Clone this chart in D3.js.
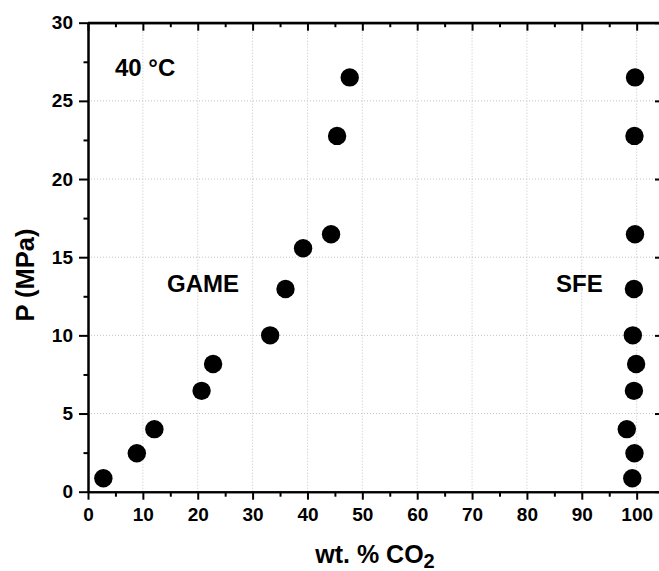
<!DOCTYPE html>
<html>
<head>
<meta charset="utf-8">
<script src="https://cdn.jsdelivr.net/npm/d3@7"></script>
<style>
  html, body { margin: 0; padding: 0; background: #fff; }
  svg text { font-family: Arial, "Liberation Sans", sans-serif; font-weight: bold; fill: #000; }
</style>
</head>
<body>
<svg id="chart" width="659" height="571"></svg>
<script>
// GAME series: CO2 content (wt. %) vs pressure (MPa)
const gameCO2 = [2.8, 8.9, 12.1, 20.7, 22.8, 33.2, 36.0, 39.2, 44.3, 45.4, 47.7];
const gameP   = [0.86, 2.46, 4.0, 6.45, 8.17, 10.0, 12.97, 15.57, 16.47, 22.76, 26.5];
// SFE series
const sfeCO2 = [99.2, 99.6, 98.2, 99.5, 99.9, 99.3, 99.5, 99.7, 99.6, 99.7];
const sfeP   = [0.86, 2.46, 4.0, 6.45, 8.17, 10.0, 12.97, 16.47, 22.76, 26.5];

const xTicks = [0, 10, 20, 30, 40, 50, 60, 70, 80, 90, 100];
const yTicks = [0, 5, 10, 15, 20, 25, 30];
const xMinor = d3.range(5, 105, 10);
const yMinor = d3.range(2.5, 30, 5);

const svg = d3.select("#chart");
const plotL = 88, plotR = 663, plotT = 22.7, plotB = 491.7;

const x = d3.scaleLinear().domain([0, 104.8]).range([plotL, plotR]);
const y = d3.scaleLinear().domain([0, 30]).range([plotB, plotT]);

// dotted grid at major ticks
const grid = svg.append("g")
  .attr("stroke", "#c4c4c4").attr("stroke-width", 1).attr("stroke-dasharray", "1,2");
grid.selectAll("line.gx").data(xTicks.filter(d => d > 0)).join("line")
  .attr("x1", d => x(d)).attr("x2", d => x(d)).attr("y1", plotT).attr("y2", plotB);
grid.selectAll("line.gy").data(yTicks.filter(d => d > 0 && d < 30)).join("line")
  .attr("x1", plotL).attr("x2", plotR).attr("y1", d => y(d)).attr("y2", d => y(d));

const tickFmt = d3.format("d");

// bottom axis (outward ticks)
svg.append("g").attr("transform", `translate(0,${plotB})`)
  .call(d3.axisBottom(x).tickValues(xTicks).tickFormat(tickFmt).tickSize(8).tickPadding(8).tickSizeOuter(0));
svg.append("g").attr("transform", `translate(0,${plotB})`)
  .call(d3.axisBottom(x).tickValues(xMinor).tickFormat("").tickSize(5).tickSizeOuter(0));

// top axis (inward ticks)
svg.append("g").attr("transform", `translate(0,${plotT})`)
  .call(d3.axisBottom(x).tickValues(xTicks).tickFormat("").tickSize(8).tickSizeOuter(0));
svg.append("g").attr("transform", `translate(0,${plotT})`)
  .call(d3.axisBottom(x).tickValues(xMinor).tickFormat("").tickSize(4.5).tickSizeOuter(0));

// left axis (outward ticks)
svg.append("g").attr("transform", `translate(${plotL},0)`)
  .call(d3.axisLeft(y).tickValues(yTicks).tickFormat(tickFmt).tickSize(9).tickPadding(6).tickSizeOuter(0));
svg.append("g").attr("transform", `translate(${plotL},0)`)
  .call(d3.axisLeft(y).tickValues(yMinor).tickFormat("").tickSize(4.5).tickSizeOuter(0));

// right axis (inward ticks)
svg.append("g").attr("transform", `translate(${plotR},0)`)
  .call(d3.axisLeft(y).tickValues(yTicks).tickFormat("").tickSize(8).tickSizeOuter(0));

svg.selectAll(".domain, .tick line").attr("stroke", "#000").attr("stroke-width", 2);
svg.selectAll(".tick text").attr("font-size", 19).attr("font-weight", "bold")
  .attr("font-family", 'Arial, "Liberation Sans", sans-serif').attr("fill", "#000");

// closing frame lines
svg.append("line").attr("x1", plotL).attr("x2", plotR).attr("y1", plotT).attr("y2", plotT)
  .attr("stroke", "#000").attr("stroke-width", 2);
svg.append("line").attr("x1", plotR).attr("x2", plotR).attr("y1", plotT).attr("y2", plotB)
  .attr("stroke", "#000").attr("stroke-width", 2);

// data points
const pts = svg.append("g");
pts.selectAll("circle.game").data(d3.zip(gameCO2, gameP)).join("circle")
  .attr("class", "game")
  .attr("cx", d => x(d[0])).attr("cy", d => y(d[1])).attr("r", 9.2).attr("fill", "#000");
pts.selectAll("circle.sfe").data(d3.zip(sfeCO2, sfeP)).join("circle")
  .attr("class", "sfe")
  .attr("cx", d => x(d[0])).attr("cy", d => y(d[1])).attr("r", 9.2).attr("fill", "#000");

// in-plot labels
svg.append("text").attr("x", 115).attr("y", 76).attr("font-size", 24).text("40 °C");
svg.append("text").attr("x", 167).attr("y", 292).attr("font-size", 24).text("GAME");
svg.append("text").attr("x", 556).attr("y", 292).attr("font-size", 24).text("SFE");

// axis titles
const xt = svg.append("text").attr("x", 375).attr("y", 562.5).attr("text-anchor", "middle").attr("font-size", 25);
xt.append("tspan").text("wt. % CO");
xt.append("tspan").attr("font-size", 20).attr("dy", 5.5).text("2");

svg.append("text").attr("transform", "translate(33.5,275) rotate(-90)")
  .attr("text-anchor", "middle").attr("font-size", 25.5).text("P (MPa)");
</script>
</body>
</html>
